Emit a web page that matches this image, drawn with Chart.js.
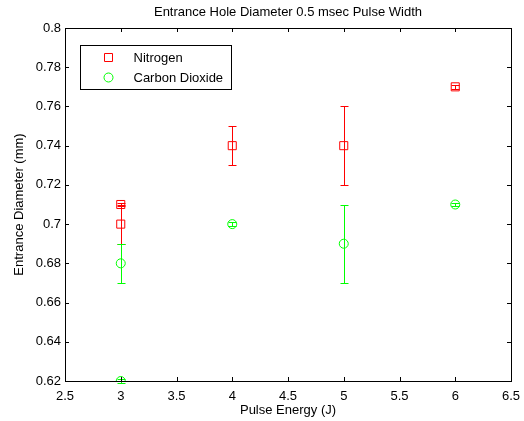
<!DOCTYPE html>
<html>
<head>
<meta charset="utf-8">
<script src="https://cdn.jsdelivr.net/npm/chart.js@4.4.0/dist/chart.umd.min.js"></script>
<style>
  html, body { margin: 0; padding: 0; background: #fff; }
  #wrap { width: 524px; height: 421px; }
</style>
</head>
<body>
<div id="wrap"><canvas id="holeChart" width="524" height="421"></canvas></div>
<script>
// Pulse energy (J) and measured entrance diameter (mm), with +/- error
const nitrogenX = [3, 3, 4, 5, 6];
const nitrogenY = [0.71, 0.70, 0.74, 0.74, 0.77];
const nitrogenErr = [0.001, 0.01, 0.01, 0.02, 0.001];

const co2X = [3, 3, 4, 5, 6];
const co2Y = [0.68, 0.62, 0.70, 0.69, 0.71];
const co2Err = [0.01, 0.001, 0.001, 0.02, 0.001];

const xTicks = [2.5, 3, 3.5, 4, 4.5, 5, 5.5, 6, 6.5];
const yTicks = [0.62, 0.64, 0.66, 0.68, 0.70, 0.72, 0.74, 0.76, 0.78, 0.80];

const chartTitle = "Entrance Hole Diameter 0.5 msec Pulse Width";

const RED = "#ff0000";
const GREEN = "#00ff00";
const FONT = "Liberation Sans, Arial, sans-serif";

function points(xs, ys) {
    return xs.map((x, i) => ({ x: x, y: ys[i] }));
}

// error bars, inward ticks, box, title and legend in MATLAB style
const matlabLook = {
    id: "matlabLook",
    afterDatasetsDraw(chart) {
        const ctx = chart.ctx;
        const xs = chart.scales.x, ys = chart.scales.y;
        const area = chart.chartArea;

        const errs = [nitrogenErr, co2Err];
        chart.data.datasets.forEach((ds, di) => {
            ctx.save();
            ctx.strokeStyle = ds.borderColor;
            ctx.lineWidth = 1;
            ds.data.forEach((p, i) => {
                const e = errs[di][i];
                const px = Math.round(xs.getPixelForValue(p.x)) + 0.5;
                const top = Math.round(ys.getPixelForValue(p.y + e)) + 0.5;
                const bot = Math.round(ys.getPixelForValue(p.y - e)) + 0.5;
                ctx.beginPath();
                ctx.moveTo(px, top); ctx.lineTo(px, bot);
                ctx.moveTo(px - 4, top); ctx.lineTo(px + 4, top);
                ctx.moveTo(px - 4, bot); ctx.lineTo(px + 4, bot);
                ctx.stroke();
            });
            ctx.restore();
        });

        ctx.save();
        ctx.strokeStyle = "#000";
        ctx.lineWidth = 1;
        ctx.beginPath();
        xTicks.forEach(v => {
            const px = Math.round(xs.getPixelForValue(v)) + 0.5;
            ctx.moveTo(px, area.bottom); ctx.lineTo(px, area.bottom - 4);
            ctx.moveTo(px, area.top); ctx.lineTo(px, area.top + 4);
        });
        yTicks.forEach(v => {
            const py = Math.round(ys.getPixelForValue(v)) + 0.5;
            ctx.moveTo(area.left, py); ctx.lineTo(area.left + 4, py);
            ctx.moveTo(area.right, py); ctx.lineTo(area.right - 4, py);
        });
        ctx.stroke();
        ctx.strokeRect(Math.round(area.left) + 0.5, Math.round(area.top) + 0.5,
            Math.round(area.right - area.left), Math.round(area.bottom - area.top));

        // title centred over the axes
        ctx.fillStyle = "#000";
        ctx.font = "13px " + FONT;
        ctx.textAlign = "center";
        ctx.textBaseline = "middle";
        ctx.fillText(chartTitle, (area.left + area.right) / 2, area.top - 16);

        // legend box
        const lx = area.left + 15.5, ly = area.top + 17.5, lw = 151, lh = 44;
        ctx.fillStyle = "#fff";
        ctx.fillRect(lx, ly, lw, lh);
        ctx.strokeRect(lx, ly, lw, lh);
        ctx.textAlign = "left";
        ctx.fillStyle = "#000";
        chart.data.datasets.forEach((ds, di) => {
            const cy = ly + 12 + di * 20;
            const mx = lx + 28;
            ctx.strokeStyle = ds.borderColor;
            ctx.beginPath();
            if (ds.pointStyle === "rect") {
                ctx.rect(mx - 4, cy - 4, 8, 8);
            } else {
                ctx.arc(mx, cy, 4.5, 0, Math.PI * 2);
            }
            ctx.stroke();
            ctx.fillText(ds.label, lx + 53, cy + 1);
        });
        ctx.restore();
    }
};

new Chart(document.getElementById("holeChart").getContext("2d"), {
    type: "scatter",
    data: {
        datasets: [
            {
                label: "Nitrogen",
                data: points(nitrogenX, nitrogenY),
                pointStyle: "rect",
                pointRadius: 5.7,
                borderColor: RED,
                backgroundColor: "rgba(0,0,0,0)",
                borderWidth: 1
            },
            {
                label: "Carbon Dioxide",
                data: points(co2X, co2Y),
                pointStyle: "circle",
                pointRadius: 4.5,
                borderColor: GREEN,
                backgroundColor: "rgba(0,0,0,0)",
                borderWidth: 1
            }
        ]
    },
    options: {
        responsive: false,
        animation: false,
        layout: { padding: { top: 28, right: 13, left: 0, bottom: 0 } },
        plugins: {
            legend: { display: false },
            tooltip: { enabled: false },
            title: { display: false }
        },
        scales: {
            x: {
                type: "linear",
                min: 2.5, max: 6.5,
                afterBuildTicks: s => { s.ticks = xTicks.map(v => ({ value: v })); },
                afterFit: s => { s.height = 40; s.paddingLeft = 0; s.paddingRight = 0; },
                grid: { display: false, drawTicks: false },
                border: { display: false },
                ticks: {
                    color: "#000",
                    padding: 8,
                    maxRotation: 0,
                    font: { family: FONT, size: 13 },
                    callback: v => String(v)
                },
                title: {
                    display: true,
                    text: "Pulse Energy (J)",
                    color: "#000",
                    font: { family: FONT, size: 13 },
                    padding: { top: 0, bottom: 3 }
                }
            },
            y: {
                type: "linear",
                min: 0.62, max: 0.8,
                afterBuildTicks: s => { s.ticks = yTicks.map(v => ({ value: v })); },
                afterFit: s => { s.width = 65; s.paddingTop = 0; s.paddingBottom = 0; },
                grid: { display: false, drawTicks: false },
                border: { display: false },
                ticks: {
                    color: "#000",
                    padding: 4,
                    font: { family: FONT, size: 13 },
                    callback: v => String(parseFloat(v.toFixed(2)))
                },
                title: {
                    display: true,
                    text: "Entrance Diameter (mm)",
                    color: "#000",
                    font: { family: FONT, size: 13 },
                    padding: { top: 12, bottom: 0 }
                }
            }
        }
    },
    plugins: [matlabLook]
});
</script>
</body>
</html>
